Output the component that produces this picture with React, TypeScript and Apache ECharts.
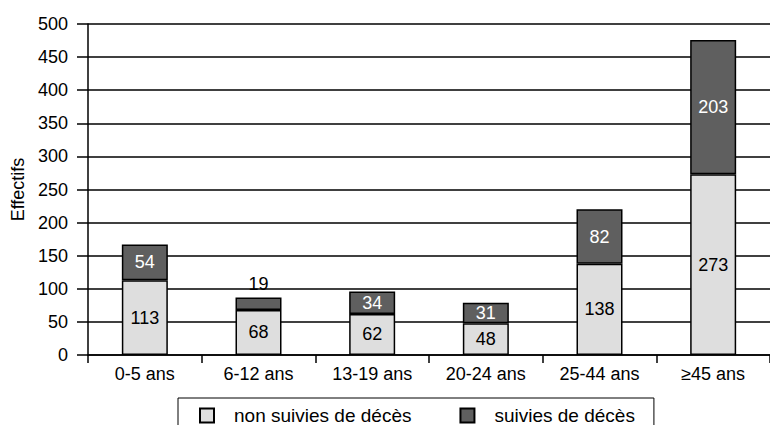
import React, { useEffect, useRef } from "react";
import * as echarts from "echarts";

const categories = ["0-5 ans", "6-12 ans", "13-19 ans", "20-24 ans", "25-44 ans", "≥45 ans"];
const nonSuivies = [113, 68, 62, 48, 138, 273];
const suivies = [54, 19, 34, 31, 82, 203];
const seriesNames = ["non suivies de décès", "suivies de décès"];
const yTicks = { min: 0, max: 500, interval: 50 };

const FONT = "'Liberation Sans', Arial, sans-serif";

export default function App() {
  const ref = useRef<HTMLDivElement>(null);
  useEffect(() => {
    if (!ref.current) return;
    const chart = echarts.init(ref.current, null, { renderer: "svg" });
    chart.setOption({
      animation: false,
      textStyle: { fontFamily: FONT },
      grid: { left: 88, top: 24, bottom: 70, right: -8 },
      legend: {
        left: 178,
        top: 398,
        orient: "horizontal",
        borderColor: "#000",
        borderWidth: 1,
        padding: [8, 19, 8, 21],
        itemWidth: 14,
        itemHeight: 14,
        itemGap: 48,
        icon: "rect",
        textStyle: { fontSize: 19, color: "#000", fontFamily: FONT, padding: [0, 0, 0, 15] },
        data: seriesNames,
      },
      xAxis: {
        type: "category",
        data: categories,
        axisLine: { lineStyle: { color: "#000", width: 1.5 } },
        axisTick: { show: true, length: 8, lineStyle: { color: "#000", width: 1.5 } },
        axisLabel: { color: "#000", fontSize: 18, margin: 10, fontFamily: FONT },
      },
      yAxis: {
        type: "value",
        min: yTicks.min,
        max: yTicks.max,
        interval: yTicks.interval,
        name: "Effectifs",
        nameLocation: "middle",
        nameRotate: 90,
        nameGap: 60,
        nameTextStyle: { color: "#000", fontSize: 18, fontFamily: FONT },
        axisLine: { show: true, lineStyle: { color: "#000", width: 1.5 } },
        axisTick: { show: true, length: 11, lineStyle: { color: "#000", width: 1.5 } },
        axisLabel: { color: "#000", fontSize: 18, margin: 20, fontFamily: FONT },
        splitLine: { show: true, lineStyle: { color: "#000", width: 1.6 } },
      },
      series: [
        {
          name: seriesNames[0],
          type: "bar",
          stack: "total",
          barWidth: 46,
          data: nonSuivies,
          itemStyle: { color: "#dedede", borderColor: "#000", borderWidth: 1.5 },
          label: { show: true, position: "inside", color: "#000", fontSize: 18, fontFamily: FONT },
        },
        {
          name: seriesNames[1],
          type: "bar",
          stack: "total",
          barWidth: 46,
          data: suivies.map((v) =>
            v < 25
              ? { value: v, label: { position: "top", color: "#000", distance: 4 } }
              : v
          ),
          itemStyle: { color: "#5f5f5f", borderColor: "#000", borderWidth: 1.5 },
          label: { show: true, position: "inside", color: "#fff", fontSize: 18, fontFamily: FONT },
        },
      ],
    });
    return () => chart.dispose();
  }, []);
  return (
    <div
      ref={ref}
      style={{ position: "fixed", left: 0, top: 0, width: 770, height: 425, background: "#fff" }}
    />
  );
}
